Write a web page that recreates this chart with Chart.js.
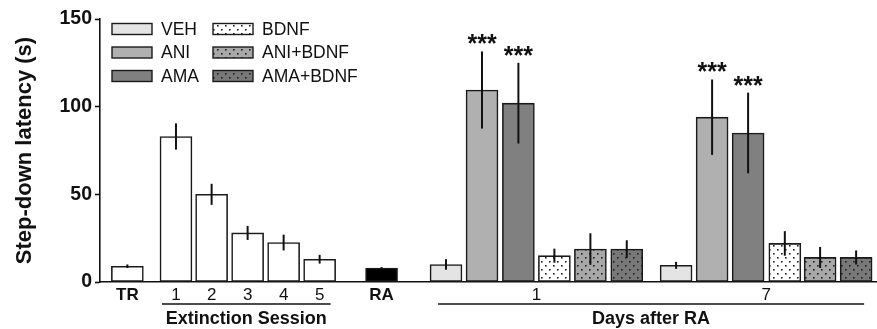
<!doctype html>
<html lang="en">
  <head>
    <meta charset="utf-8" />
    <title>Step-down latency</title>
    <style>
      html, body { margin: 0; padding: 0; background: #fff; }
      .chartBox { width: 877px; height: 329px; }
    </style>
  </head>
  <body>
    <div class="chartBox">
      <canvas id="myChart"></canvas>
    </div>
    <script src="https://cdn.jsdelivr.net/npm/chart.js/dist/chart.umd.min.js"></script>
    <script>
      // training + extinction sessions (white bars)
      const extLabels = ["TR", "1", "2", "3", "4", "5"];
      const extPos = [0.76, 2.11, 3.1, 4.1, 5.1, 6.1];
      const extValues = [9, 83, 50, 28, 22.5, 13];
      const extErrors = [1, 7.5, 6, 4, 4.5, 2.5];

      // reactivation
      const raPos = [7.82];
      const raValues = [8];
      const raErrors = [0.5];

      // days after RA, one entry per day
      const dayLabels = ["1", "7"];
      const groups = ["VEH", "ANI", "AMA", "BDNF", "ANI+BDNF", "AMA+BDNF"];
      const groupPos = [
        [9.61, 16.0],
        [10.61, 17.0],
        [11.62, 18.0],
        [12.62, 19.02],
        [13.62, 20.0],
        [14.63, 21.0],
      ];
      const vehValues = [10, 9.5];
      const aniValues = [109.5, 94];
      const amaValues = [102, 85];
      const bdnfValues = [15, 22];
      const aniBdnfValues = [18.8, 14];
      const amaBdnfValues = [18.8, 14];
      const vehErrors = [3, 2];
      const aniErrors = [22, 21.5];
      const amaErrors = [23, 23];
      const bdnfErrors = [4, 7];
      const aniBdnfErrors = [9, 6];
      const amaBdnfErrors = [5, 4];
      const starGroups = ["ANI", "AMA"];

      const FONT = "'Liberation Sans', Arial, sans-serif";

      function dots(base) {
        const c = document.createElement("canvas");
        c.width = 8;
        c.height = 8;
        const g = c.getContext("2d");
        g.fillStyle = base;
        g.fillRect(0, 0, 8, 8);
        g.fillStyle = "#222";
        g.fillRect(1, 1, 1.6, 1.6);
        g.fillRect(5, 5, 1.6, 1.6);
        return g.createPattern(c, "repeat");
      }

      const fills = {
        VEH: "#e4e4e4",
        ANI: "#b0b0b0",
        AMA: "#808080",
        BDNF: dots("#ffffff"),
        "ANI+BDNF": dots("#a8a8a8"),
        "AMA+BDNF": dots("#787878"),
      };

      const groupValues = [vehValues, aniValues, amaValues, bdnfValues, aniBdnfValues, amaBdnfValues];
      const groupErrors = [vehErrors, aniErrors, amaErrors, bdnfErrors, aniBdnfErrors, amaBdnfErrors];

      const barStyle = {
        borderColor: "#1a1a1a",
        borderWidth: 1.6,
        borderSkipped: false,
        barThickness: 32,
        grouped: false,
      };

      const datasets = [
        {
          label: "Extinction",
          data: extPos.map((x, i) => ({ x, y: extValues[i] })),
          errors: extErrors,
          backgroundColor: "#ffffff",
          ...barStyle,
        },
        {
          label: "RA",
          data: raPos.map((x, i) => ({ x, y: raValues[i] })),
          errors: raErrors,
          backgroundColor: "#000000",
          ...barStyle,
        },
      ];
      groups.forEach((g, k) => {
        datasets.push({
          label: g,
          data: groupPos[k].map((x, i) => ({ x, y: groupValues[k][i] })),
          errors: groupErrors[k],
          backgroundColor: fills[g],
          ...barStyle,
        });
      });

      const errorBars = {
        id: "errorBars",
        afterDatasetsDraw(chart) {
          const { ctx, scales: { y } } = chart;
          ctx.save();
          ctx.strokeStyle = "#111";
          ctx.lineWidth = 2;
          chart.data.datasets.forEach((ds, di) => {
            const meta = chart.getDatasetMeta(di);
            meta.data.forEach((bar, i) => {
              const v = ds.data[i].y;
              const e = ds.errors[i];
              ctx.beginPath();
              ctx.moveTo(bar.x, y.getPixelForValue(v + e));
              ctx.lineTo(bar.x, y.getPixelForValue(v - e));
              ctx.stroke();
              if (starGroups.includes(ds.label)) {
                ctx.fillStyle = "#111";
                ctx.font = "bold 25px " + FONT;
                ctx.textAlign = "center";
                ctx.textBaseline = "alphabetic";
                ctx.fillText("***", bar.x, y.getPixelForValue(v + e) + 1);
              }
            });
          });
          ctx.restore();
        },
      };

      const labelsPlugin = {
        id: "labelsPlugin",
        afterDraw(chart) {
          const { ctx, chartArea: { top, bottom }, scales: { x } } = chart;
          ctx.save();
          ctx.fillStyle = "#111";
          ctx.strokeStyle = "#111";
          ctx.textAlign = "center";
          ctx.textBaseline = "middle";
          const ty = bottom + 13;

          // x labels for TR and sessions
          extLabels.forEach((l, i) => {
            ctx.font = (l === "TR" ? "bold " : "") + "17px " + FONT;
            ctx.fillText(l, x.getPixelForValue(extPos[i]), ty);
          });
          ctx.font = "bold 17px " + FONT;
          ctx.fillText("RA", x.getPixelForValue(raPos[0]), ty);
          ctx.font = "17px " + FONT;
          dayLabels.forEach((l, i) => {
            const mid = (x.getPixelForValue(groupPos[0][i]) + x.getPixelForValue(groupPos[5][i])) / 2;
            ctx.fillText(l, mid, ty);
          });

          // bracket lines and their titles
          ctx.lineWidth = 1.6;
          const ly = bottom + 22;
          const extL = x.getPixelForValue(extPos[1]) - 14;
          const extR = x.getPixelForValue(extPos[5]) + 11;
          ctx.beginPath();
          ctx.moveTo(extL, ly);
          ctx.lineTo(extR, ly);
          const dayL = x.getPixelForValue(groupPos[0][0]) - 8;
          const dayR = x.getPixelForValue(groupPos[5][1]) + 8;
          ctx.moveTo(dayL, ly);
          ctx.lineTo(dayR, ly);
          ctx.stroke();
          ctx.font = "bold 18px " + FONT;
          ctx.fillText("Extinction Session", (extL + extR) / 2, bottom + 37);
          ctx.fillText("Days after RA", (dayL + dayR) / 2, bottom + 37);

          // legend, two columns of three
          const order = [groups.slice(0, 3), groups.slice(3)];
          const colX = [112, 213];
          order.forEach((col, c) => {
            col.forEach((g, r) => {
              const cy = top + 10 + r * 23.5;
              ctx.fillStyle = fills[g];
              ctx.fillRect(colX[c], cy - 5.5, 40, 11);
              ctx.lineWidth = 1.4;
              ctx.strokeStyle = "#1a1a1a";
              ctx.strokeRect(colX[c], cy - 5.5, 40, 11);
              ctx.fillStyle = "#111";
              ctx.font = "17.5px " + FONT;
              ctx.textAlign = "left";
              ctx.fillText(g, colX[c] + 49, cy + 1);
            });
          });
          ctx.restore();
        },
      };

      const config = {
        type: "bar",
        data: { datasets },
        options: {
          responsive: true,
          maintainAspectRatio: false,
          animation: false,
          layout: { padding: { top: 19, right: 0, left: 0, bottom: 0 } },
          scales: {
            x: {
              type: "linear",
              min: 0,
              max: 21.58,
              offset: false,
              ticks: { display: false },
              grid: { display: false, drawTicks: false },
              border: { color: "#111", width: 1.6 },
              afterFit: (s) => { s.height = 47; },
            },
            y: {
              min: 0,
              max: 150,
              ticks: {
                stepSize: 50,
                color: "#111",
                padding: 3,
                font: { family: FONT, size: 19.5, weight: "bold" },
              },
              grid: { drawOnChartArea: false, drawTicks: true, tickLength: 5, color: "#111", tickWidth: 1.6 },
              border: { color: "#111", width: 1.6 },
              title: {
                display: true,
                text: "Step-down latency (s)",
                color: "#111",
                padding: { top: 12, bottom: 4 },
                font: { family: FONT, size: 22, weight: "bold" },
              },
              afterFit: (s) => { s.width = 100; },
            },
          },
          plugins: {
            legend: { display: false },
            tooltip: { enabled: false },
          },
        },
        plugins: [errorBars, labelsPlugin],
      };

      const myChart = new Chart(document.getElementById("myChart"), config);
    </script>
  </body>
</html>
